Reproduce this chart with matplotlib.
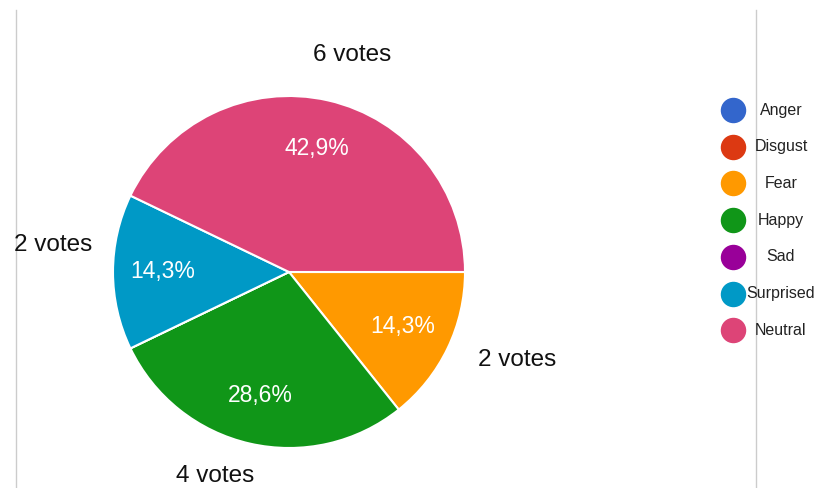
import numpy as np
import matplotlib
matplotlib.use("Agg")
import matplotlib.pyplot as plt

categories = ["Anger", "Disgust", "Fear", "Happy", "Sad", "Surprised", "Neutral"]
votes = [0, 0, 2, 4, 0, 2, 6]
colors = ["#3366cc", "#dc3912", "#ff9900", "#109618", "#990099", "#0099c6", "#dd4477"]

# layout tweaks for the outside labels: (angle shift in degrees, radius factor)
label_layout = {"Fear": (4.7, 1.39), "Happy": (-7.0, 1.235),
                "Surprised": (-6.5, 1.35), "Neutral": (-3.3, 1.285)}

plt.rcParams['font.family'] = ['Liberation Sans', 'DejaVu Sans']

W, H = 823, 488
fig = plt.figure(figsize=(W / 100, H / 100), dpi=100)
ax = fig.add_axes([0, 0, 1, 1])

cx, cy, R = 289, H - 272, 176

def pct(p):
    if p < 0.05:
        return ''
    return f"{p:.1f}".replace('.', ',') + '%'

wedges, texts, autotexts = ax.pie(
    votes, colors=colors, startangle=0, counterclock=False,
    center=(cx, cy), radius=R, autopct=pct, pctdistance=0.72,
    wedgeprops=dict(edgecolor='white', linewidth=1.5),
    textprops=dict(color='white', fontsize=16.5), frame=True)
ax.set_xlim(0, W)
ax.set_ylim(0, H)
ax.axis('off')

for w, v, c in zip(wedges, votes, categories):
    if v == 0:
        continue
    dth, rf = label_layout.get(c, (0, 1.3))
    th = np.deg2rad((w.theta1 + w.theta2) / 2 + dth)
    r = R * rf
    ax.text(cx + r * np.cos(th), cy + r * np.sin(th), f"{v} votes",
            ha='center', va='center', fontsize=17.5, color='#111111')

# frame lines
ax.plot([16, 16], [0, H - 10], color='#cccccc', lw=1)
ax.plot([756, 756], [0, H - 10], color='#cccccc', lw=1)

# legend
for i, (c, col) in enumerate(zip(categories, colors)):
    y = H - (110 + i * 36.7)
    ax.scatter([733], [y], s=300, color=col, zorder=3)
    ax.text(781, y, c, ha='center', va='center', fontsize=11.5, color='#222222')

fig.savefig("out.png", dpi=100)
